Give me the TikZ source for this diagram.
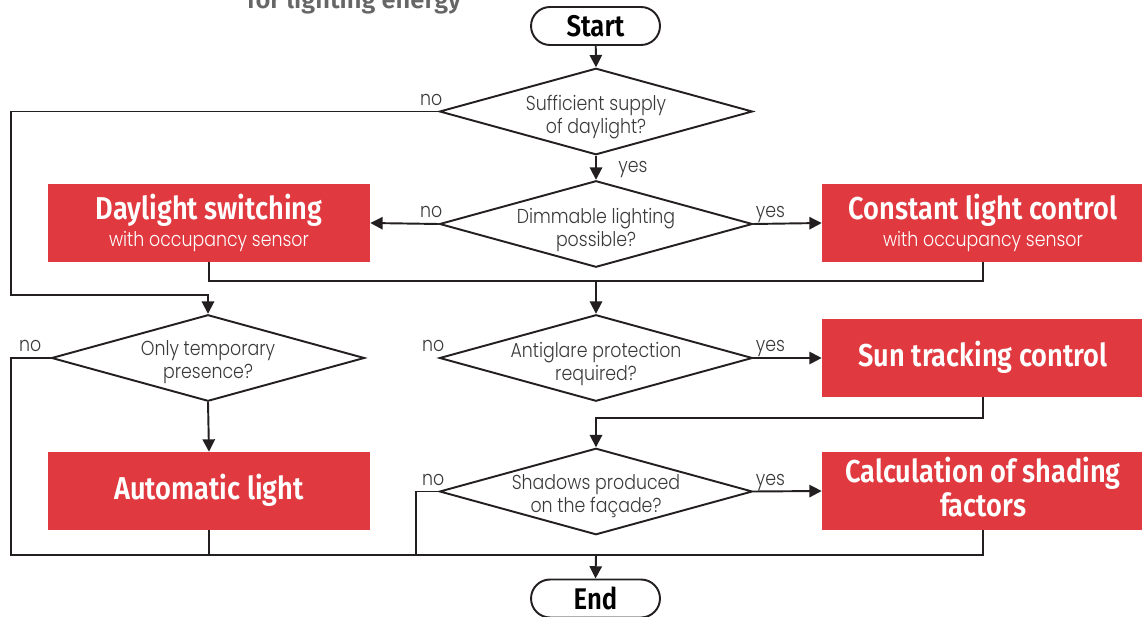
\documentclass[tikz,border=0pt]{standalone}
\usepackage{fontspec}
\setmainfont{Fira Sans}[BoldFont={* SemiBold}]
\newfontfamily\condf{Fira Sans}[BoldFont={* SemiBold},FakeStretch=0.86]
\newfontfamily\thinf{Poppins}[UprightFont={* Light},FakeStretch=0.86]
\usetikzlibrary{shapes.geometric,arrows.meta,calc}
\definecolor{lc}{HTML}{231F20}
\definecolor{boxred}{HTML}{E03A40}
\definecolor{txtgray}{HTML}{3A3A3A}
\definecolor{hdrgray}{HTML}{666666}
\newcommand{\titlef}{\condf\bfseries\fontsize{18}{20}\selectfont}
\newcommand{\subf}{\thinf\fontsize{11.5}{13}\selectfont}
\newcommand{\diaf}{\thinf\fontsize{11.5}{13.5}\selectfont}
\begin{document}
\begin{tikzpicture}[x=0.02cm,y=-0.02cm,
  conn/.style={draw=lc,line width=1.1pt},
  arr/.style={conn,-{Triangle[length=7pt,width=7pt]}},
  dia/.style={diamond,draw=lc,line width=1.1pt,minimum width=6.26cm,minimum height=1.73cm,inner sep=0pt},
  dtext/.style={text=txtgray,align=center,font=\diaf,inner sep=0pt},
  lbl/.style={text=txtgray,font=\diaf,inner sep=0pt},
  redbox/.style={fill=boxred,minimum width=6.44cm,minimum height=1.56cm,inner sep=0pt},
  ttl/.style={anchor=base,text=white,font=\titlef,inner sep=0pt},
  sub/.style={anchor=base,text=white,font=\subf,inner sep=0pt},
  term/.style={draw=lc,line width=1.1pt,rounded corners=0.38cm,minimum width=2.58cm,minimum height=0.76cm,inner sep=0pt,font=\condf\bfseries\fontsize{17}{19}\selectfont}
]
\useasboundingbox (0,0) rectangle (1142,617);

% header (cut off at the top edge, as in the reference)
\node[anchor=base,text=hdrgray,font=\bfseries\fontsize{14.5}{16}\selectfont,inner sep=0pt] (hdr) at (354,9) {for lighting energy};

% terminals
\node[term] (start) at (595.5,26) {Start};
\node[term] (end) at (595.5,598.5) {End};

% diamonds
\node[dia] (d1) at (596,111.5) {};
\node[dtext] (t1) at (596,117) {Sufficient supply\\of daylight?};
\node[dia] (d2) at (596,224) {};
\node[dtext] (t2) at (596,230) {Dimmable lighting\\possible?};
\node[dia] (d3) at (208,358) {};
\node[dtext] (t3) at (208,362) {Only temporary\\presence?};
\node[dia] (d4) at (596,358) {};
\node[dtext] (t4) at (596,364) {Antiglare protection\\required?};
\node[dia] (d5) at (596,491.5) {};
\node[dtext] (t5) at (596,496) {Shadows produced\\on the façade?};

% red boxes
\node[redbox] (day) at (209,223) {};
\node[ttl] (dayt) at ($(day.center)+(0,-3)$) {Daylight switching};
\node[sub] (days) at ($(day.center)+(0,24)$) {with occupancy sensor};
\node[redbox] (con) at (983,223) {};
\node[ttl] (cont) at ($(con.center)+(0,-3)$) {Constant light control};
\node[sub] (cons) at ($(con.center)+(0,24)$) {with occupancy sensor};
\node[redbox] (sun) at (983,358) {};
\node[ttl] (sunt) at ($(sun.center)+(0,9)$) {Sun tracking control};
\node[redbox] (auto) at (209,491) {};
\node[ttl] (autot) at ($(auto.center)+(0,9)$) {Automatic light};
\node[redbox] (calc) at (983,491) {};
\node[ttl] (calct1) at ($(calc.center)+(0,-8)$) {Calculation of shading};
\node[ttl] (calct2) at ($(calc.center)+(0,26)$) {factors};

% helper coordinates
\coordinate (c1) at (11,295);
\coordinate (m1) at (596,281);
\coordinate (m2) at (596,418);
\coordinate (b0) at (11,555);
\coordinate (b1) at (416,555);
\coordinate (b2) at (596,555);

% connectors
\draw[arr] (start) -- (d1.north);
\draw[arr] (d1.south) -- (d2.north);
\draw[arr] (d1.west) -| (c1) -| (d3.north);
\draw[arr] (d2.west) -- (day.east);
\draw[arr] (d2.east) -- (con.west);
\draw[conn] (day.south) |- (m1) -| (con.south);
\draw[arr] (m1) -- (d4.north);
\draw[arr] (d3.south) -- (auto.north);
\draw[arr] (d4.east) -- (sun.west);
\draw[arr] (sun.south) |- (m2) -- (d5.north);
\draw[arr] (d5.east) -- (calc.west);
\draw[conn] (d3.west) -| (b0) -| (calc.south);
\draw[conn] (auto.south) -- (auto.south |- b0);
\draw[conn] (d5.west) -| (b1);
\draw[arr] (b2) -- (end.north);

% labels
\node[lbl,anchor=base east] (l1) at ($(d1.west)+(4,-6)$) {no};
\node[lbl,anchor=base west] (l2) at ($(d1.south)+(22,17)$) {yes};
\node[lbl,anchor=base east] (l3) at ($(d2.west)+(4,-6)$) {no};
\node[lbl,anchor=base west] (l4) at ($(d2.east)+(2,-6)$) {yes};
\node[lbl,anchor=base east] (l5) at ($(d3.west)+(-9,-6)$) {no};
\node[lbl,anchor=base east] (l6) at ($(d4.west)+(6,-6)$) {no};
\node[lbl,anchor=base west] (l7) at ($(d4.east)+(2,-6)$) {yes};
\node[lbl,anchor=base east] (l8) at ($(d5.west)+(6,-6)$) {no};
\node[lbl,anchor=base west] (l9) at ($(d5.east)+(2,-6)$) {yes};
\end{tikzpicture}
\end{document}
